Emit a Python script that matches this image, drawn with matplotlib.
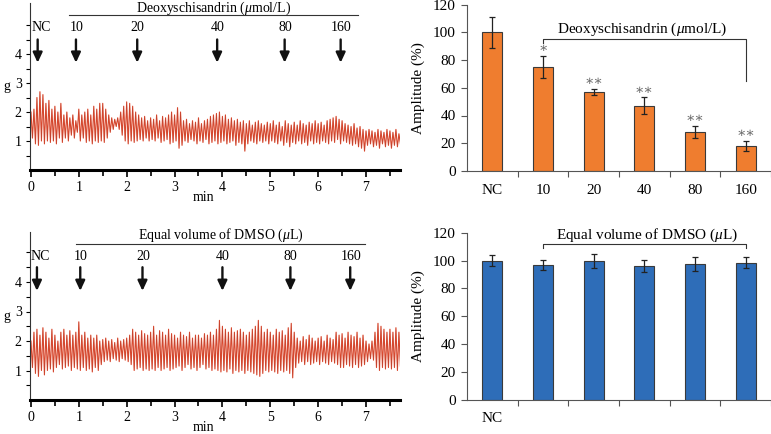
import numpy as np
import matplotlib
matplotlib.use("Agg")
import matplotlib.pyplot as plt

plt.rcParams['font.family'] = ['Liberation Serif', 'DejaVu Serif']
plt.rcParams['mathtext.fontset'] = 'custom'
plt.rcParams['mathtext.it'] = 'Liberation Serif:italic'
plt.rcParams['mathtext.rm'] = 'Liberation Serif'

# ---------------- data ----------------
# trace sampling: one value per half cycle (peak, trough alternating)
half_period_min = 1 / 32

trace_top = [
    2.0, 1.1, 2.1, 0.9, 2.5, 0.85, 2.7, 1.0, 2.6, 0.9, 2.3, 1.0, 2.4, 0.95, 2.1, 1.0,
    2.2, 0.9, 2.0, 1.1, 2.3, 0.95, 1.9, 1.1, 2.0, 1.0, 1.8, 1.2, 1.9, 1.1, 1.7, 1.3,
    2.1, 1.0, 1.9, 1.1, 2.0, 0.95, 2.1, 1.0, 1.9, 0.9, 2.2, 1.0, 2.1, 0.95, 2.3, 1.0,
    2.3, 0.95, 2.1, 1.1, 1.9, 1.3, 1.8, 1.4, 1.75, 1.5, 1.8, 1.4, 2.0, 1.2, 2.2, 1.0,
    2.35, 0.9, 2.3, 1.0, 2.2, 0.95, 2.0, 1.0, 1.9, 1.05, 1.8, 1.0, 1.85, 1.1, 1.7, 1.0,
    1.8, 1.05, 1.75, 1.0, 1.9, 1.1, 1.7, 0.95, 1.85, 1.0, 1.8, 1.05, 1.9, 0.9, 2.0, 0.95,
    1.9, 1.0, 2.15, 0.75, 2.0, 0.85, 1.7, 1.0, 1.75, 0.95, 1.6, 1.05, 1.7, 1.0, 1.65, 0.9,
    1.8, 1.0, 1.6, 0.95, 1.7, 1.05, 1.75, 0.9, 1.85, 0.95, 1.9, 1.0, 1.95, 0.9, 2.0, 0.95,
    1.85, 1.0, 1.9, 0.9, 1.75, 0.95, 1.8, 1.0, 1.7, 0.85, 1.75, 0.95, 1.65, 0.9, 1.7, 0.65,
    1.6, 0.9, 1.7, 1.0, 1.55, 0.95, 1.65, 0.9, 1.7, 1.0, 1.6, 0.95, 1.55, 1.0, 1.65, 0.9,
    1.6, 1.0, 1.7, 0.95, 1.55, 0.9, 1.65, 1.0, 1.5, 0.85, 1.7, 0.95, 1.6, 0.8, 1.55, 0.95,
    1.65, 0.9, 1.55, 1.0, 1.7, 0.9, 1.6, 0.95, 1.55, 0.85, 1.65, 1.0, 1.6, 0.9, 1.7, 0.95,
    1.6, 0.9, 1.65, 1.0, 1.55, 0.95, 1.7, 0.9, 1.75, 1.0, 1.8, 0.95, 1.85, 1.05, 1.75, 0.9,
    1.7, 1.0, 1.6, 0.95, 1.55, 0.9, 1.5, 0.85, 1.6, 0.9, 1.45, 0.8, 1.5, 0.75, 1.4, 0.65,
    1.35, 0.85, 1.4, 0.9, 1.35, 0.8, 1.3, 0.85, 1.4, 0.75, 1.35, 0.9, 1.3, 0.8, 1.4, 0.85,
    1.35, 0.75, 1.3, 0.85, 1.4, 0.8, 1.25, 0.9,
]

trace_bottom = [
    2.0, 1.1, 2.3, 0.9, 2.4, 0.8, 2.2, 1.0, 2.45, 0.85, 2.3, 1.0, 2.1, 1.05, 2.4, 0.95,
    2.2, 1.1, 2.0, 1.2, 2.3, 1.05, 2.4, 1.1, 2.2, 1.15, 2.35, 1.0, 2.2, 1.1, 2.3, 1.05,
    2.65, 1.0, 2.2, 1.1, 2.3, 1.0, 2.1, 1.05, 2.2, 0.95, 2.1, 1.1, 2.2, 1.0, 2.0, 1.2,
    2.05, 1.3, 2.1, 1.35, 2.0, 1.3, 2.05, 1.4, 1.95, 1.35, 2.1, 1.3, 2.0, 1.4, 2.05, 1.35,
    2.1, 1.3, 2.2, 1.2, 2.4, 1.0, 2.3, 1.05, 2.2, 1.1, 2.35, 1.0, 2.25, 1.05, 2.2, 1.0,
    2.3, 1.05, 2.5, 1.0, 2.2, 1.1, 2.35, 1.0, 2.3, 1.05, 2.2, 1.1, 2.4, 1.0, 2.25, 1.05,
    2.2, 1.1, 2.1, 1.15, 2.3, 1.0, 2.2, 1.1, 2.15, 1.2, 2.3, 1.05, 2.1, 1.1, 2.2, 1.0,
    2.2, 1.1, 2.1, 1.2, 2.25, 1.05, 2.2, 1.1, 2.3, 1.0, 2.2, 1.05, 2.4, 1.0, 2.7, 0.95,
    2.5, 1.0, 2.4, 0.95, 2.3, 1.05, 2.45, 0.9, 2.3, 1.0, 2.35, 0.95, 2.4, 1.0, 2.3, 0.9,
    2.2, 1.0, 2.3, 0.95, 2.4, 0.9, 2.5, 0.85, 2.7, 0.8, 2.5, 0.9, 2.3, 1.0, 2.4, 0.95,
    2.3, 1.0, 2.2, 0.95, 2.4, 0.9, 2.3, 1.0, 2.35, 0.95, 2.2, 1.0, 2.45, 0.9, 2.6, 0.75,
    2.3, 1.1, 2.1, 1.25, 2.0, 1.3, 2.15, 1.2, 2.05, 1.3, 2.2, 1.2, 2.1, 1.25, 2.0, 1.3,
    2.1, 1.2, 2.15, 1.3, 2.0, 1.25, 2.2, 1.2, 2.1, 1.3, 2.05, 1.25, 2.3, 1.2, 2.2, 1.1,
    2.25, 1.1, 2.1, 1.2, 2.3, 1.15, 2.2, 1.1, 2.15, 1.2, 2.3, 1.1, 2.1, 1.15, 2.2, 1.2,
    2.0, 1.3, 1.9, 1.4, 2.0, 1.35, 2.3, 1.1, 2.6, 1.0, 2.5, 1.1, 2.4, 1.05, 2.3, 1.1,
    2.4, 1.05, 2.3, 1.1, 2.45, 1.0, 2.3, 1.15,
]

dose_labels = ["NC", "10", "20", "40", "80", "160"]
arrow_times_top = [0.14, 0.94, 2.22, 3.89, 5.30, 6.47]
arrow_times_bottom = [0.125, 1.03, 2.33, 4.0, 5.42, 6.67]

categories = ["NC", "10", "20", "40", "80", "160"]
amp_drug = [100, 75, 57, 47, 28, 18]
err_drug = [11, 8, 2, 6, 4.5, 3.5]
sig_drug = ["", "*", "**", "**", "**", "**"]

amp_dmso = [100, 97, 100, 96, 97.5, 98.5]
err_dmso = [4, 3.5, 5, 4.5, 5, 4]
dmso_tick_labels = ["NC", "", "", "", "", ""]

title_drug = r"Deoxyschisandrin ($\mu$mol/L)"
title_dmso = r"Equal volume of DMSO ($\mu$L)"

# ---------------- figure ----------------
W, H = 771, 434
fig = plt.figure(figsize=(W / 100, H / 100), dpi=100)

def frac(l, t, r, b):
    return [l / W, 1 - b / H, (r - l) / W, (b - t) / H]

trace_color = "#ea4d2e"


def trace_panel(rect, values, ymax, arrows, title, bar_from, bar_to, ybar, ytitle, ylab_arrow):
    ax = fig.add_axes(rect)
    t = np.arange(len(values)) * half_period_min
    ax.plot(t, values, color=trace_color, lw=0.8)
    ax.plot(t, values, color="#7a3030", lw=0.3, alpha=0.45)
    ax.set_xlim(-0.02, 7.71)
    ax.set_ylim(0, ymax)
    for s in ["top", "right"]:
        ax.spines[s].set_visible(False)
    ax.spines["bottom"].set_linewidth(2.2)
    ax.spines["left"].set_linewidth(0.8)
    ax.spines["left"].set_color("#333333")
    ax.set_xticks(range(0, 8))
    ax.set_xticks(np.arange(0, 7.75, 0.5), minor=True)
    ax.set_yticks([1, 2, 3, 4])
    ax.set_yticks(np.arange(0.5, 5.01, 0.5), minor=True)
    ax.tick_params(axis="x", which="major", length=5, width=1.2, labelsize=10, pad=3)
    ax.tick_params(axis="x", which="minor", length=4, width=1.2)
    ax.tick_params(axis="y", which="major", length=3, width=0.8, labelsize=10, pad=3)
    ax.tick_params(axis="y", which="minor", length=3, width=0.8)
    ax.set_xlabel("min", fontsize=10, va="top")
    ax.xaxis.set_label_coords(0.47, -0.128)
    ax.set_ylabel("g", fontsize=10, rotation=0, va="center")
    ax.yaxis.set_label_coords(-0.062, 0.5)
    for xt, lab in zip(arrows, dose_labels):
        ax.annotate("", xy=(xt, 3.7), xytext=(xt, 4.5),
                    arrowprops=dict(arrowstyle="-|>,head_width=0.28,head_length=0.6",
                                    color="#111111", lw=1.7, shrinkA=0, shrinkB=0))
        ax.text(xt + (0.07 if lab == "NC" else 0.01), ylab_arrow, lab, ha="center",
                va="center", fontsize=10)
    ax.plot([bar_from, bar_to], [ybar, ybar], color="#333333", lw=0.8, clip_on=False)
    ax.text((bar_from + bar_to) / 2 + 0.0, ytitle, title, ha="center", va="center",
            fontsize=10, clip_on=False)
    return ax


trace_panel(frac(30, 3, 400, 170), trace_top, 167 / 29, arrow_times_top,
            title_drug, 0.8, 6.83, 5.34, 5.58, 4.9)
trace_panel(frac(30, 232.5, 400, 400), trace_bottom, 167.5 / 29.5, arrow_times_bottom,
            title_dmso, 0.94, 6.98, 5.29, 5.59, 4.86)


def bar_panel(rect, vals, errs, color, ticklabels):
    ax = fig.add_axes(rect)
    x = np.arange(len(vals))
    ax.bar(x, vals, width=0.4, color=color, edgecolor="#3a3a3a", linewidth=0.8, zorder=2)
    ax.errorbar(x, vals, yerr=errs, fmt="none", ecolor="#222222", elinewidth=0.9,
                capsize=2.5, capthick=0.9, zorder=3)
    ax.set_xlim(-0.5, 5.5)
    ax.set_ylim(0, 120)
    for s in ["top", "right"]:
        ax.spines[s].set_visible(False)
    for s in ["left", "bottom"]:
        ax.spines[s].set_color("#555555")
        ax.spines[s].set_linewidth(0.8)
    ax.set_yticks(range(0, 121, 20))
    ax.set_xticks(x)
    ax.set_xticklabels(ticklabels)
    ax.tick_params(axis="x", which="major", length=0, labelsize=11, pad=9)
    ax.set_xticks(np.arange(0.5, 5.6, 1.0), minor=True)
    ax.tick_params(axis="x", which="minor", length=4, width=0.8, color="#555555")
    ax.tick_params(axis="y", length=4, width=0.8, color="#555555", labelsize=11, pad=4)
    ax.set_ylabel("Amplitude (%)", fontsize=11, labelpad=6)
    return ax


ax_b1 = bar_panel(frac(467, 4.5, 771, 171), amp_drug, err_drug, "#ef7d2f", categories)
for i, (v, e, s) in enumerate(zip(amp_drug, err_drug, sig_drug)):
    if s:
        ax_b1.text(i, v + e + 0.5, s.replace("*", "\u2217"), ha="center", va="bottom",
                   fontsize=10, color="#666666")
ax_b1.plot([1, 1, 5, 5], [92, 95, 95, 65], color="#333333", lw=0.8)
ax_b1.text(2.95, 102, title_drug, ha="center", va="center", fontsize=11)

ax_b2 = bar_panel(frac(467, 232.7, 771, 400), amp_dmso, err_dmso, "#2e6db8", dmso_tick_labels)
ax_b2.plot([1, 1, 5, 5], [109, 112, 112, 109], color="#333333", lw=0.8)
ax_b2.text(3.05, 118, title_dmso, ha="center", va="center", fontsize=11)

fig.savefig("out.png", dpi=100)
